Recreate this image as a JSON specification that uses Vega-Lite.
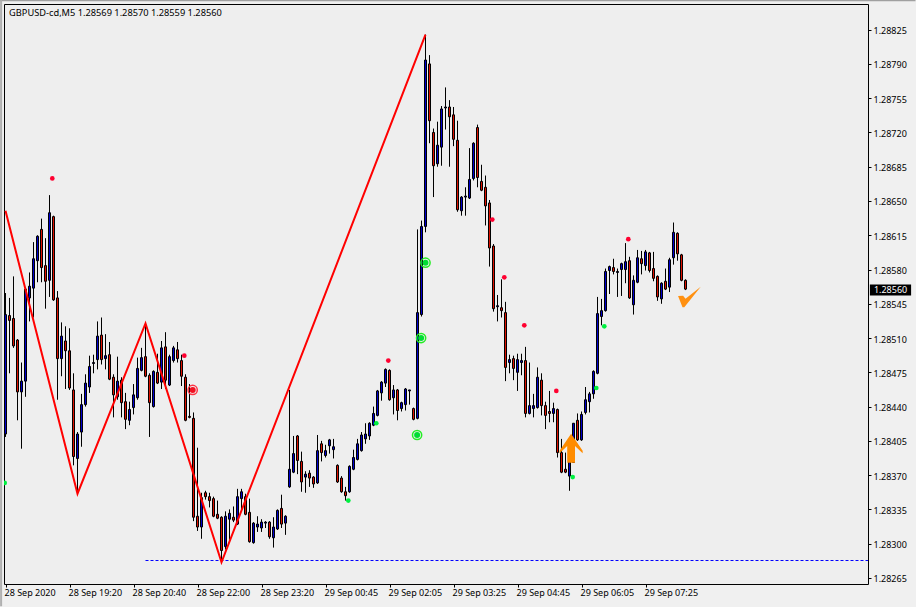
{"$schema":"https://vega.github.io/schema/vega-lite/v6.json","width":864,"height":580,"autosize":"none","padding":{"left":4,"top":4,"right":48,"bottom":23},"background":"#f0f0f0","view":{"stroke":"#000000","strokeWidth":1,"fill":"#eeeeee"},
"datasets":{"candles":[
{"t":0,"o":1.28412,"h":1.28556,"l":1.28409,"c":1.28534},{"t":1,"o":1.28533,"h":1.28551,"l":1.28474,"c":1.28528},{"t":2,"o":1.2853,"h":1.28573,"l":1.285,"c":1.28502},{"t":3,"o":1.28508,"h":1.28509,"l":1.28426,"c":1.28455},{"t":4,"o":1.28455,"h":1.28485,"l":1.28397,"c":1.28466},{"t":5,"o":1.28466,"h":1.2856,"l":1.2845,"c":1.2856},{"t":6,"o":1.28551,"h":1.28577,"l":1.28527,"c":1.28563},{"t":7,"o":1.28561,"h":1.28608,"l":1.28531,"c":1.28591},{"t":8,"o":1.28589,"h":1.28615,"l":1.28567,"c":1.28614},{"t":9,"o":1.28621,"h":1.28632,"l":1.28567,"c":1.28582},
{"t":10,"o":1.28584,"h":1.28612,"l":1.2854,"c":1.28568},{"t":11,"o":1.28569,"h":1.28656,"l":1.28552,"c":1.28638},{"t":12,"o":1.28634,"h":1.28635,"l":1.28548,"c":1.28549},{"t":13,"o":1.28551,"h":1.28558,"l":1.28447,"c":1.28489},{"t":14,"o":1.28489,"h":1.28526,"l":1.28471,"c":1.28512},{"t":15,"o":1.28507,"h":1.28522,"l":1.28458,"c":1.28497},{"t":16,"o":1.28497,"h":1.2852,"l":1.28457,"c":1.28459},{"t":17,"o":1.28457,"h":1.28474,"l":1.2838,"c":1.28389},{"t":18,"o":1.28387,"h":1.28414,"l":1.2835,"c":1.28412},{"t":19,"o":1.28414,"h":1.28453,"l":1.28399,"c":1.28442},
{"t":20,"o":1.28442,"h":1.28473,"l":1.2844,"c":1.28464},{"t":21,"o":1.2846,"h":1.28492,"l":1.28454,"c":1.28481},{"t":22,"o":1.28484,"h":1.28493,"l":1.28474,"c":1.28485},{"t":23,"o":1.28488,"h":1.28527,"l":1.28478,"c":1.28512},{"t":24,"o":1.28513,"h":1.28531,"l":1.28483,"c":1.28488},{"t":25,"o":1.28489,"h":1.28514,"l":1.28478,"c":1.28492},{"t":26,"o":1.28493,"h":1.28506,"l":1.28467,"c":1.28468},{"t":27,"o":1.2847,"h":1.28473,"l":1.28429,"c":1.28452},{"t":28,"o":1.2845,"h":1.28491,"l":1.28447,"c":1.28466},{"t":29,"o":1.28467,"h":1.2847,"l":1.28429,"c":1.28444},
{"t":30,"o":1.28445,"h":1.28454,"l":1.28417,"c":1.28427},{"t":31,"o":1.28426,"h":1.28445,"l":1.28421,"c":1.28437},{"t":32,"o":1.28439,"h":1.28463,"l":1.28432,"c":1.28452},{"t":33,"o":1.28449,"h":1.2849,"l":1.28447,"c":1.28479},{"t":34,"o":1.28477,"h":1.285,"l":1.28476,"c":1.2849},{"t":35,"o":1.28491,"h":1.28526,"l":1.2847,"c":1.28471},{"t":36,"o":1.28472,"h":1.28474,"l":1.28409,"c":1.28444},{"t":37,"o":1.2844,"h":1.28477,"l":1.28439,"c":1.28476},{"t":38,"o":1.28475,"h":1.28494,"l":1.28463,"c":1.28464},{"t":39,"o":1.28465,"h":1.28507,"l":1.28458,"c":1.285},
{"t":40,"o":1.28501,"h":1.28516,"l":1.28458,"c":1.28467},{"t":41,"o":1.28462,"h":1.28493,"l":1.28461,"c":1.28491},{"t":42,"o":1.28487,"h":1.28502,"l":1.28485,"c":1.285},{"t":43,"o":1.28498,"h":1.28506,"l":1.28485,"c":1.28489},{"t":44,"o":1.28487,"h":1.28493,"l":1.28461,"c":1.28471},{"t":45,"o":1.2847,"h":1.28473,"l":1.28425,"c":1.28426},{"t":46,"o":1.2843,"h":1.28463,"l":1.28428,"c":1.28429},{"t":47,"o":1.28428,"h":1.28434,"l":1.28323,"c":1.28327},{"t":48,"o":1.28328,"h":1.28398,"l":1.28313,"c":1.28317},{"t":49,"o":1.28317,"h":1.28352,"l":1.28305,"c":1.28347},
{"t":50,"o":1.28352,"h":1.28354,"l":1.28345,"c":1.28348},{"t":51,"o":1.28348,"h":1.28352,"l":1.28337,"c":1.28344},{"t":52,"o":1.28346,"h":1.28348,"l":1.28327,"c":1.28328},{"t":53,"o":1.2833,"h":1.28344,"l":1.28325,"c":1.28326},{"t":54,"o":1.28327,"h":1.28328,"l":1.28281,"c":1.28293},{"t":55,"o":1.28297,"h":1.28333,"l":1.28294,"c":1.28328},{"t":56,"o":1.28325,"h":1.28335,"l":1.28304,"c":1.28331},{"t":57,"o":1.28327,"h":1.28338,"l":1.28322,"c":1.28324},{"t":58,"o":1.2832,"h":1.28356,"l":1.28319,"c":1.28348},{"t":59,"o":1.28346,"h":1.28356,"l":1.28335,"c":1.28353},
{"t":60,"o":1.28348,"h":1.28351,"l":1.28329,"c":1.2833},{"t":61,"o":1.28332,"h":1.28346,"l":1.28301,"c":1.28302},{"t":62,"o":1.28301,"h":1.28322,"l":1.283,"c":1.28321},{"t":63,"o":1.28317,"h":1.28328,"l":1.28312,"c":1.2832},{"t":64,"o":1.28316,"h":1.28325,"l":1.28312,"c":1.28322},{"t":65,"o":1.28321,"h":1.28323,"l":1.28316,"c":1.28322},{"t":66,"o":1.28322,"h":1.28323,"l":1.28305,"c":1.28307},{"t":67,"o":1.28306,"h":1.28327,"l":1.28296,"c":1.28317},{"t":68,"o":1.28315,"h":1.28335,"l":1.28314,"c":1.28334},{"t":69,"o":1.28336,"h":1.2835,"l":1.28316,"c":1.2832},
{"t":70,"o":1.28321,"h":1.28329,"l":1.28309,"c":1.28328},{"t":71,"o":1.28358,"h":1.28457,"l":1.28357,"c":1.28376},{"t":72,"o":1.28373,"h":1.2841,"l":1.28372,"c":1.28392},{"t":73,"o":1.2841,"h":1.28411,"l":1.28371,"c":1.28385},{"t":74,"o":1.28384,"h":1.28394,"l":1.28353,"c":1.28363},{"t":75,"o":1.28368,"h":1.28374,"l":1.28352,"c":1.28371},{"t":76,"o":1.28372,"h":1.28375,"l":1.28358,"c":1.28367},{"t":77,"o":1.28368,"h":1.28369,"l":1.28357,"c":1.28361},{"t":78,"o":1.28362,"h":1.28411,"l":1.28361,"c":1.28395},{"t":79,"o":1.28402,"h":1.28405,"l":1.28384,"c":1.28393},
{"t":80,"o":1.2839,"h":1.28401,"l":1.28388,"c":1.28395},{"t":81,"o":1.284,"h":1.28407,"l":1.28392,"c":1.28406},{"t":82,"o":1.28396,"h":1.28407,"l":1.28387,"c":1.28399},{"t":83,"o":1.2838,"h":1.28381,"l":1.28362,"c":1.28363},{"t":84,"o":1.28367,"h":1.28369,"l":1.28352,"c":1.28353},{"t":85,"o":1.28353,"h":1.28358,"l":1.28344,"c":1.28349},{"t":86,"o":1.28353,"h":1.2838,"l":1.28352,"c":1.28379},{"t":87,"o":1.28376,"h":1.28396,"l":1.28375,"c":1.28388},{"t":88,"o":1.28386,"h":1.28407,"l":1.28385,"c":1.28402},{"t":89,"o":1.28395,"h":1.28414,"l":1.28394,"c":1.28411},
{"t":90,"o":1.28407,"h":1.28423,"l":1.28402,"c":1.28412},{"t":91,"o":1.2841,"h":1.28424,"l":1.28406,"c":1.28423},{"t":92,"o":1.28421,"h":1.2844,"l":1.2842,"c":1.28433},{"t":93,"o":1.28431,"h":1.28457,"l":1.2843,"c":1.28456},{"t":94,"o":1.28454,"h":1.28466,"l":1.28446,"c":1.28465},{"t":95,"o":1.28464,"h":1.28479,"l":1.2846,"c":1.28478},{"t":96,"o":1.28477,"h":1.28478,"l":1.28446,"c":1.28447},{"t":97,"o":1.28449,"h":1.28462,"l":1.28432,"c":1.28457},{"t":98,"o":1.28457,"h":1.28458,"l":1.28426,"c":1.28436},{"t":99,"o":1.28438,"h":1.28445,"l":1.28435,"c":1.28444},
{"t":100,"o":1.28442,"h":1.28459,"l":1.28436,"c":1.28458},{"t":101,"o":1.28456,"h":1.28457,"l":1.28442,"c":1.28457},{"t":102,"o":1.28438,"h":1.28439,"l":1.28426,"c":1.28427},{"t":103,"o":1.28428,"h":1.28621,"l":1.28427,"c":1.28536},{"t":104,"o":1.28534,"h":1.2863,"l":1.28532,"c":1.28624},{"t":105,"o":1.28624,"h":1.2882,"l":1.28618,"c":1.28794},{"t":106,"o":1.2879,"h":1.28799,"l":1.28709,"c":1.28732},{"t":107,"o":1.2872,"h":1.28724,"l":1.28654,"c":1.28686},{"t":108,"o":1.28688,"h":1.28731,"l":1.28685,"c":1.28707},{"t":109,"o":1.28705,"h":1.28747,"l":1.28686,"c":1.28744},
{"t":110,"o":1.28745,"h":1.28766,"l":1.28723,"c":1.28746},{"t":111,"o":1.28746,"h":1.28753,"l":1.28685,"c":1.28736},{"t":112,"o":1.28738,"h":1.28746,"l":1.28706,"c":1.28713},{"t":113,"o":1.28712,"h":1.28732,"l":1.28639,"c":1.28641},{"t":114,"o":1.2864,"h":1.28655,"l":1.28635,"c":1.28654},{"t":115,"o":1.28654,"h":1.28664,"l":1.28635,"c":1.28655},{"t":116,"o":1.28653,"h":1.28704,"l":1.28652,"c":1.28672},{"t":117,"o":1.28673,"h":1.2871,"l":1.28671,"c":1.28709},{"t":118,"o":1.28725,"h":1.28728,"l":1.28664,"c":1.28674},{"t":119,"o":1.2867,"h":1.28687,"l":1.2866,"c":1.28661},
{"t":120,"o":1.28664,"h":1.28676,"l":1.28625,"c":1.28645},{"t":121,"o":1.28648,"h":1.28651,"l":1.28583,"c":1.28602},{"t":122,"o":1.28604,"h":1.28606,"l":1.28537,"c":1.2854},{"t":123,"o":1.28542,"h":1.28554,"l":1.28527,"c":1.28543},{"t":124,"o":1.28541,"h":1.2857,"l":1.28531,"c":1.28538},{"t":125,"o":1.28536,"h":1.28547,"l":1.28466,"c":1.2848},{"t":126,"o":1.28485,"h":1.28493,"l":1.28474,"c":1.28488},{"t":127,"o":1.28489,"h":1.28492,"l":1.28467,"c":1.28479},{"t":128,"o":1.28475,"h":1.28494,"l":1.28456,"c":1.28488},{"t":129,"o":1.28485,"h":1.28494,"l":1.28472,"c":1.28487},
{"t":130,"o":1.28487,"h":1.28501,"l":1.28429,"c":1.28433},{"t":131,"o":1.28433,"h":1.28485,"l":1.28432,"c":1.28441},{"t":132,"o":1.28438,"h":1.28453,"l":1.28429,"c":1.28441},{"t":133,"o":1.28439,"h":1.2848,"l":1.28438,"c":1.2847},{"t":134,"o":1.28467,"h":1.28474,"l":1.28431,"c":1.28441},{"t":135,"o":1.28441,"h":1.28445,"l":1.28417,"c":1.28431},{"t":136,"o":1.28435,"h":1.28456,"l":1.28424,"c":1.28433},{"t":137,"o":1.28433,"h":1.28444,"l":1.28424,"c":1.28438},{"t":138,"o":1.28437,"h":1.28438,"l":1.28388,"c":1.28393},{"t":139,"o":1.28393,"h":1.28407,"l":1.28372,"c":1.28373},
{"t":140,"o":1.28376,"h":1.28393,"l":1.28372,"c":1.28373},{"t":141,"o":1.28369,"h":1.28385,"l":1.28354,"c":1.28384},{"t":142,"o":1.28383,"h":1.28423,"l":1.28383,"c":1.28423},{"t":143,"o":1.28426,"h":1.28433,"l":1.28405,"c":1.28406},{"t":144,"o":1.28406,"h":1.28435,"l":1.28405,"c":1.28432},{"t":145,"o":1.28434,"h":1.2846,"l":1.28432,"c":1.28447},{"t":146,"o":1.28445,"h":1.28455,"l":1.28434,"c":1.28453},{"t":147,"o":1.28453,"h":1.28477,"l":1.28448,"c":1.28476},{"t":148,"o":1.28474,"h":1.28552,"l":1.28473,"c":1.28535},{"t":149,"o":1.28532,"h":1.2855,"l":1.28523,"c":1.28538},
{"t":150,"o":1.28538,"h":1.28581,"l":1.28537,"c":1.28578},{"t":151,"o":1.28579,"h":1.28584,"l":1.28555,"c":1.28583},{"t":152,"o":1.28582,"h":1.28591,"l":1.28575,"c":1.28578},{"t":153,"o":1.28577,"h":1.28581,"l":1.28552,"c":1.28578},{"t":154,"o":1.2858,"h":1.28587,"l":1.28553,"c":1.28586},{"t":155,"o":1.2858,"h":1.28607,"l":1.28566,"c":1.28588},{"t":156,"o":1.28589,"h":1.28593,"l":1.2855,"c":1.28551},{"t":157,"o":1.28544,"h":1.28574,"l":1.28534,"c":1.28569},{"t":158,"o":1.28567,"h":1.286,"l":1.28566,"c":1.28592},{"t":159,"o":1.28591,"h":1.28599,"l":1.28575,"c":1.28586},
{"t":160,"o":1.28584,"h":1.286,"l":1.28579,"c":1.28598},{"t":161,"o":1.28597,"h":1.28598,"l":1.28577,"c":1.28579},{"t":162,"o":1.28581,"h":1.28598,"l":1.28568,"c":1.28571},{"t":163,"o":1.28573,"h":1.28574,"l":1.28548,"c":1.28552},{"t":164,"o":1.2855,"h":1.28567,"l":1.28545,"c":1.28566},{"t":165,"o":1.28568,"h":1.28581,"l":1.28559,"c":1.2856},{"t":166,"o":1.28562,"h":1.28592,"l":1.28557,"c":1.2859},{"t":167,"o":1.28592,"h":1.28628,"l":1.28585,"c":1.28618},{"t":168,"o":1.28617,"h":1.28618,"l":1.28589,"c":1.28596},{"t":169,"o":1.28595,"h":1.28596,"l":1.28568,"c":1.28569},
{"t":170,"o":1.28569,"h":1.2857,"l":1.28559,"c":1.2856}
],
"zigzag":[{"t":0,"p":1.2864},{"t":18,"p":1.28351},{"t":35,"p":1.28525},{"t":54,"p":1.28281},{"t":105,"p":1.2882}],
"reddots":[{"t":11.7,"p":1.28673},{"t":44.7,"p":1.28492},{"t":95.7,"p":1.28487},{"t":121.7,"p":1.28631},{"t":124.7,"p":1.28572},{"t":129.7,"p":1.28523},{"t":137.7,"p":1.28456},{"t":155.7,"p":1.28611}],
"greendots":[{"t":-0.2,"p":1.28362},{"t":85.7,"p":1.28344},{"t":92.7,"p":1.28423},{"t":141.8,"p":1.28368},{"t":147.7,"p":1.28459},{"t":149.7,"p":1.28522}],
"greenrings":[{"t":102.9,"p":1.28411},{"t":103.9,"p":1.2851},{"t":105,"p":1.28587}]},
"encoding":{"x":{"field":"t","type":"quantitative","title":null,"scale":{"domain":[-0.375,215.625],"nice":false,"zero":false,"padding":0},"axis":{"orient":"bottom","grid":false,"domain":false,"values":[0,16,32,48,64,80,96,112,128,144,160],"labelExpr":"['28 Sep 2020','28 Sep 19:20','28 Sep 20:40','28 Sep 22:00','28 Sep 23:20','29 Sep 00:45','29 Sep 02:05','29 Sep 03:25','29 Sep 04:45','29 Sep 06:05','29 Sep 07:25'][datum.value/16]","labelAlign":"left","labelBaseline":"middle","labelPadding":5,"labelOffset":-1.5,"tickSize":3,"tickColor":"#000000","labelColor":"#000000","labelFont":"Noto Sans","labelFontSize":9,"labelOverlap":false,"labelFlush":false,"labelBound":false,"tickCount":30}}},
"layer":[
{"data":{"name":"candles"},"mark":{"type":"rule","color":"#000000","strokeWidth":1},"encoding":{"y":{"field":"l","type":"quantitative","title":null,"scale":{"domain":[1.282588,1.288512],"nice":false,"zero":false},"axis":{"orient":"right","grid":false,"domain":false,"values":[1.28265,1.283,1.28335,1.2837,1.28405,1.2844,1.28475,1.2851,1.28545,1.2858,1.28615,1.2865,1.28685,1.2872,1.28755,1.2879,1.28825],"format":".5f","tickSize":3,"tickColor":"#000000","labelColor":"#000000","labelFont":"Noto Sans","labelFontSize":9,"labelPadding":2,"labelOffset":1,"labelOverlap":false,"labelBound":false,"tickCount":30}},"y2":{"field":"h"}}},
{"data":{"name":"candles"},"mark":{"type":"bar","size":2,"stroke":"#000000","strokeWidth":1},"encoding":{"y":{"field":"o","type":"quantitative"},"y2":{"field":"c"},"fill":{"condition":{"test":"datum.c>datum.o","value":"#0000cc"},"value":"#dd1100"}}},
{"data":{"values":[{"t":35,"t2":215.625,"p":1.282828}]},"mark":{"type":"rule","color":"#0000ff","strokeWidth":1,"strokeDash":[3,2]},"encoding":{"x2":{"field":"t2"},"y":{"field":"p","type":"quantitative"}}},
{"data":{"name":"zigzag"},"mark":{"type":"line","color":"#ff0000","strokeWidth":2},"encoding":{"y":{"field":"p","type":"quantitative"}}},
{"data":{"name":"reddots"},"mark":{"type":"point","filled":true,"shape":"circle","size":22,"color":"#ff0030","opacity":1},"encoding":{"y":{"field":"p","type":"quantitative"}}},
{"data":{"name":"greendots"},"mark":{"type":"point","filled":true,"shape":"circle","size":22,"color":"#00f040","opacity":1,"clip":true},"encoding":{"y":{"field":"p","type":"quantitative"}}},
{"data":{"name":"greenrings"},"mark":{"type":"point","filled":false,"shape":"circle","size":85,"stroke":"#22ee22","strokeWidth":1.5,"opacity":1},"encoding":{"y":{"field":"p","type":"quantitative"}}},
{"data":{"name":"greenrings"},"mark":{"type":"point","filled":true,"shape":"circle","size":36,"color":"#00dd33","opacity":1},"encoding":{"y":{"field":"p","type":"quantitative"}}},
{"data":{"values":[{"t":46.8,"p":1.28457}]},"mark":{"type":"point","filled":false,"shape":"circle","size":85,"stroke":"#ff3344","strokeWidth":1.5,"opacity":1},"encoding":{"y":{"field":"p","type":"quantitative"}}},
{"data":{"values":[{"t":46.8,"p":1.28457}]},"mark":{"type":"point","filled":true,"shape":"circle","size":36,"color":"#f01020","opacity":1},"encoding":{"y":{"field":"p","type":"quantitative"}}},
{"data":{"values":[{"t":141.4,"p":1.28397}]},"mark":{"type":"point","filled":true,"size":900,"color":"#ff8c00","opacity":1,"shape":"M0,-1 L0.77,0.13 L0.77,0.3 L0.26,-0.18 L0.26,0.93 L-0.26,0.93 L-0.26,-0.18 L-0.77,0.3 L-0.77,0.13 Z"},"encoding":{"y":{"field":"p","type":"quantitative"}}},
{"data":{"values":[{"t":170.9,"p":1.28552}]},"mark":{"type":"point","filled":true,"size":576,"color":"#ff9010","opacity":1,"shape":"M-0.92,-0.07 L-0.5,-0.1 L-0.3,0.15 L0.97,-0.85 L-0.4,0.85 L-0.55,0.85 Z"},"encoding":{"y":{"field":"p","type":"quantitative"}}},
{"data":{"values":[{"t":216.1,"t2":226.4,"p":1.28559}]},"mark":{"type":"rule","color":"#000000","strokeWidth":11},"encoding":{"x2":{"field":"t2"},"y":{"field":"p","type":"quantitative"}}},
{"data":{"values":[{"t":217.1,"p":1.28559,"label":"1.28560"}]},"mark":{"type":"text","align":"left","baseline":"middle","color":"#ffffff","font":"Noto Sans","fontSize":9},"encoding":{"y":{"field":"p","type":"quantitative"},"text":{"field":"label"}}},
{"data":{"values":[{"t":0.9,"p":1.28842,"label":"GBPUSD-cd,M5  1.28569 1.28570 1.28559 1.28560"}]},"mark":{"type":"text","align":"left","baseline":"middle","color":"#000000","font":"Noto Sans","fontSize":9.25},"encoding":{"y":{"field":"p","type":"quantitative"},"text":{"field":"label"}}},
{"data":{"values":[{"t":-1.5,"t2":227.5,"p":1.28855}]},"mark":{"type":"rule","color":"#a0a0a0","strokeWidth":2},"encoding":{"x2":{"field":"t2"},"y":{"field":"p","type":"quantitative"}}},
{"data":{"values":[{"t":-1.1,"p":1.28855,"p2":1.28236}]},"mark":{"type":"rule","color":"#b0b0b0","strokeWidth":2},"encoding":{"y":{"field":"p","type":"quantitative"},"y2":{"field":"p2"}}}
],
"config":{"axis":{"titlePadding":0}}}
